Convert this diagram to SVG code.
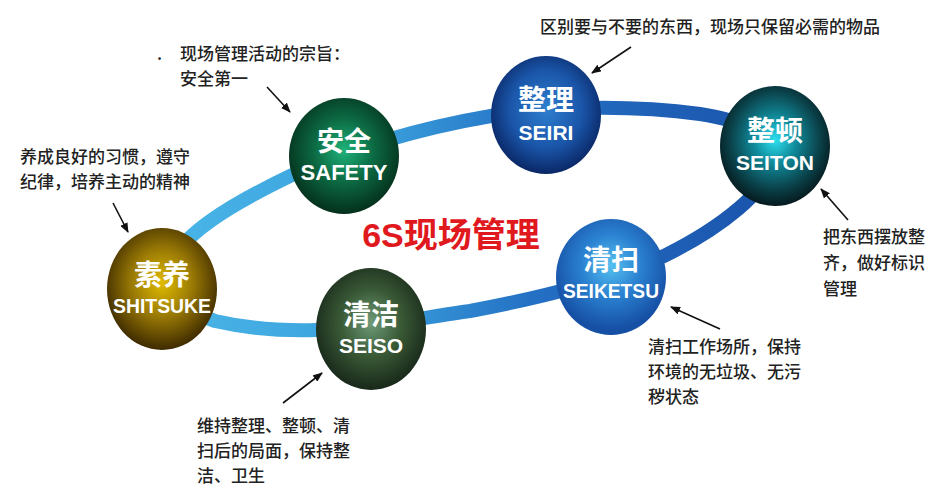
<svg xmlns="http://www.w3.org/2000/svg" width="936" height="495" viewBox="0 0 936 495">
<style>
.ttl{font-family:"Noto Sans CJK SC","Noto Sans",sans-serif;font-weight:bold;fill:#fff;text-anchor:middle}
.en{font-family:"Liberation Sans",Arial,sans-serif;font-weight:bold;fill:#fff;text-anchor:middle}
.note{font-family:"Noto Sans CJK SC","Noto Sans",sans-serif;font-size:17px;fill:#222;font-weight:500}
.arr{stroke:#111;stroke-width:1.6;fill:none;marker-end:url(#ah)}
</style>
<defs>
<marker id="ah" viewBox="0 0 10 8" refX="9" refY="4" markerWidth="10" markerHeight="8" markerUnits="userSpaceOnUse" orient="auto">
<path d="M0,0 L10,4 L0,8 Z" fill="#111"/>
</marker>
<linearGradient id="ring" gradientUnits="userSpaceOnUse" x1="160" y1="0" x2="780" y2="0">
<stop offset="0" stop-color="#4ab6e8"/><stop offset="0.35" stop-color="#3aa0dc"/><stop offset="0.6" stop-color="#2470c4"/><stop offset="1" stop-color="#1a52aa"/>
</linearGradient>
<radialGradient id="gGreen" cx="50%" cy="45%" r="55%"><stop offset="0" stop-color="#1fb27a"/><stop offset="0.5" stop-color="#0c6a43"/><stop offset="1" stop-color="#04301c"/></radialGradient>
<radialGradient id="gBlue1" cx="50%" cy="45%" r="55%"><stop offset="0" stop-color="#2f7fd0"/><stop offset="0.6" stop-color="#1a55a8"/><stop offset="1" stop-color="#0a2766"/></radialGradient>
<radialGradient id="gTeal" cx="50%" cy="45%" r="55%"><stop offset="0" stop-color="#2de0f0"/><stop offset="0.35" stop-color="#108a9a"/><stop offset="0.75" stop-color="#0a4048"/><stop offset="1" stop-color="#051a1e"/></radialGradient>
<radialGradient id="gGold" cx="50%" cy="45%" r="55%"><stop offset="0" stop-color="#e0bb00"/><stop offset="0.5" stop-color="#9a7a05"/><stop offset="1" stop-color="#3e2a00"/></radialGradient>
<radialGradient id="gOlive" cx="50%" cy="45%" r="55%"><stop offset="0" stop-color="#6e9a78"/><stop offset="0.5" stop-color="#3a5a36"/><stop offset="1" stop-color="#18281a"/></radialGradient>
<radialGradient id="gBlue2" cx="50%" cy="40%" r="55%"><stop offset="0" stop-color="#55c0f0"/><stop offset="0.5" stop-color="#2a80d0"/><stop offset="1" stop-color="#1650a5"/></radialGradient>
</defs>
<rect width="936" height="495" fill="#fff"/>
<g id="connectors">
<path d="M168,268 C180,235 230,205 290,176 C345,150 420,128 491,116 C560,105 640,106 700,114 C740,120 775,135 772,160 C770,190 720,228 666,255 C620,278 540,298 470,311 C420,318 360,330 316,330 C280,331 245,328 215,321 C190,313 165,290 168,268 Z" fill="none" stroke="url(#ring)" stroke-width="14"/>
<line class="arr" x1="267" y1="87" x2="290" y2="112"/>
<line class="arr" x1="113" y1="203" x2="128" y2="232"/>
<line class="arr" x1="631" y1="47" x2="592" y2="73"/>
<line class="arr" x1="848" y1="220" x2="821" y2="189"/>
<line class="arr" x1="720" y1="329" x2="671" y2="307"/>
<line class="arr" x1="283" y1="403" x2="322" y2="373"/>
</g>
<g id="safety">
<ellipse cx="344" cy="156" rx="55" ry="58" fill="url(#gGreen)"/>
<text class="ttl" x="344" y="151" font-size="27">安全</text>
<text class="en" x="344" y="180" font-size="22">SAFETY</text>
</g>
<g id="seiri">
<ellipse cx="546" cy="115" rx="55" ry="59" fill="url(#gBlue1)"/>
<text class="ttl" x="546" y="110" font-size="28">整理</text>
<text class="en" x="546" y="140" font-size="21">SEIRI</text>
</g>
<g id="seiton">
<ellipse cx="775" cy="146" rx="55" ry="60" fill="url(#gTeal)"/>
<text class="ttl" x="775" y="141" font-size="28">整顿</text>
<text class="en" x="775" y="170" font-size="21">SEITON</text>
</g>
<g id="shitsuke">
<ellipse cx="162" cy="289" rx="55" ry="61" fill="url(#gGold)"/>
<text class="ttl" x="162" y="285" font-size="28">素养</text>
<text class="en" x="162" y="313" font-size="21" textLength="98" lengthAdjust="spacingAndGlyphs">SHITSUKE</text>
</g>
<g id="seiso">
<ellipse cx="371" cy="329" rx="55" ry="61" fill="url(#gOlive)"/>
<text class="ttl" x="371" y="325" font-size="28">清洁</text>
<text class="en" x="371" y="353" font-size="21">SEISO</text>
</g>
<g id="seiketsu">
<ellipse cx="611" cy="277" rx="55" ry="58" fill="url(#gBlue2)"/>
<text class="ttl" x="611" y="270" font-size="28">清扫</text>
<text class="en" x="611" y="298" font-size="20" textLength="96" lengthAdjust="spacingAndGlyphs">SEIKETSU</text>
</g>
<g id="title">
<text x="451" y="247" font-family="Liberation Sans,'Noto Sans CJK SC',sans-serif" font-weight="bold" font-size="34" fill="#e0191e" text-anchor="middle">6S现场管理</text>
</g>
<g id="notes">
<text class="note" x="540" y="33">区别要与不要的东西，现场只保留必需的物品</text>
<text class="note" x="157" y="60">.</text>
<text class="note" x="180" y="60">现场管理活动的宗旨：</text>
<text class="note" x="180" y="85">安全第一</text>
<text class="note" x="20" y="163">养成良好的习惯，遵守</text>
<text class="note" x="20" y="188">纪律，培养主动的精神</text>
<text class="note" x="823" y="243">把东西摆放整</text>
<text class="note" x="823" y="269">齐，做好标识</text>
<text class="note" x="823" y="295">管理</text>
<text class="note" x="648" y="353">清扫工作场所，保持</text>
<text class="note" x="648" y="378">环境的无垃圾、无污</text>
<text class="note" x="648" y="403">秽状态</text>
<text class="note" x="197" y="432">维持整理、整顿、清</text>
<text class="note" x="197" y="457">扫后的局面，保持整</text>
<text class="note" x="197" y="482">洁、卫生</text>
</g>
</svg>
